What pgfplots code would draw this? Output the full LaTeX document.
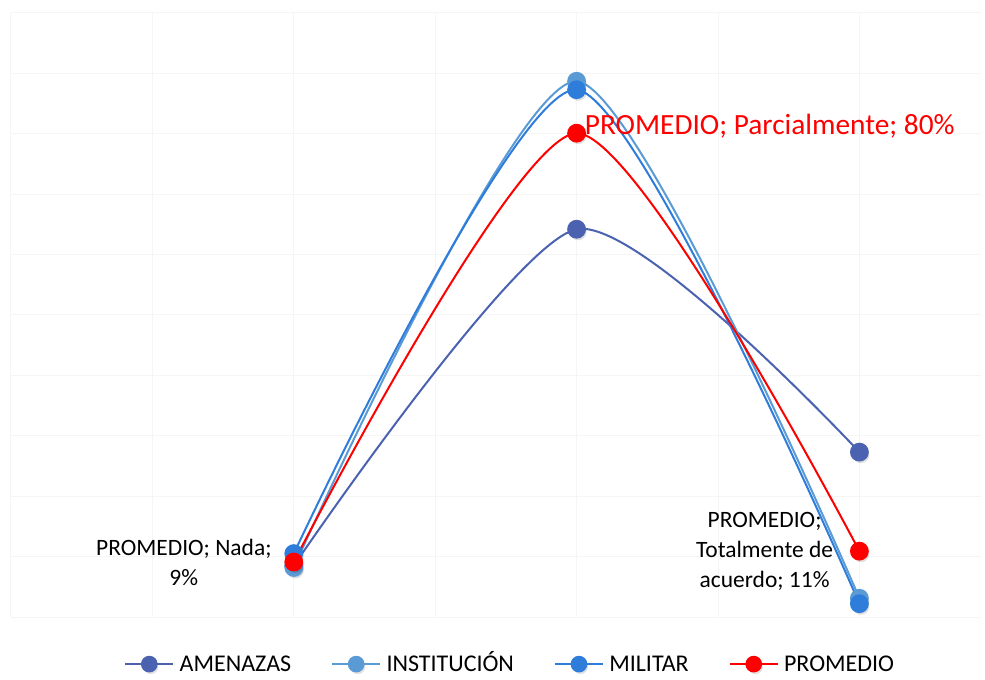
\documentclass[border=0pt]{standalone}
\usepackage{pgfplots}
\pgfplotsset{compat=1.18}
\usepackage{fontspec}
\setmainfont{Carlito}

\definecolor{amen}{HTML}{4A62B0}
\definecolor{inst}{HTML}{5B9BD5}
\definecolor{mili}{HTML}{2E7DDB}
\definecolor{prom}{HTML}{FF0000}

% round marker with a soft shadow, like the original
\pgfdeclareplotmark{shcirc}{%
  \begin{pgfscope}
    \pgfsetfillcolor{black}\pgfsetfillopacity{0.12}
    \pgfpathcircle{\pgfqpoint{1.2pt}{-2pt}}{\pgfplotmarksize}
    \pgfusepath{fill}
  \end{pgfscope}
  \pgfpathcircle{\pgfpointorigin}{\pgfplotmarksize}
  \pgfusepathqfillstroke}

\begin{document}
\begin{tikzpicture}
\useasboundingbox (0pt,0pt) rectangle (738.75pt,509.25pt);
\begin{axis}[
  at={(8.25pt,46.5pt)}, anchor=south west,
  scale only axis, width=727.5pt, height=453pt,
  xmin=-1, xmax=2.43, ymin=0, ymax=100,
  axis line style={draw=none},
  xtick={-1,-0.5,...,2.5}, ytick={0,10,...,100},
  xticklabels={}, yticklabels={},
  major tick length=0pt,
  grid=major, grid style={black!4, line width=0.75pt},
  clip=false,
  every axis plot/.append style={smooth, tension=0.4, line width=1.5pt, mark=shcirc, mark size=6.3pt},
  legend columns=4,
  legend style={at={(0.515,-0.078)}, anchor=center, draw=none, fill=none,
    font=\fontsize{18}{21}\selectfont,
    nodes={text height=12.5pt, text depth=1pt},
    /tikz/every odd column/.style={column sep=2pt},
    /tikz/every even column/.style={column sep=28pt}},
  legend image code/.code={
    \draw[#1, mark=none] (0pt,0pt) -- (36pt,0pt);
    \draw[#1, mark size=5.5pt, only marks] plot coordinates {(18pt,0pt)};},
]
\addplot[color=amen] coordinates {(0,8.5) (1,64.2) (2,27.3)};
\addlegendentry{AMENAZAS}
\addplot[color=inst] coordinates {(0,8.2) (1,88.7) (2,3.1)};
\addlegendentry{INSTITUCIÓN}
\addplot[color=mili] coordinates {(0,10.5) (1,87.3) (2,2.2)};
\addlegendentry{MILITAR}
\addplot[color=prom] coordinates {(0,9.1) (1,80.1) (2,10.9)};
\addlegendentry{PROMEDIO}

\node[anchor=east, align=center, inner sep=0pt, xshift=-16.5pt,
  font=\fontsize{17.6}{22.5}\selectfont] at (axis cs:0,9.1) {PROMEDIO; Nada;\\9\%};
\node[anchor=west, inner sep=0pt, xshift=6pt, yshift=5pt, text=prom,
  font=\fontsize{22}{26}\selectfont] at (axis cs:1,80.1) {PROMEDIO; Parcialmente; 80\%};
\node[anchor=east, align=center, inner sep=0pt, xshift=-19.5pt,
  font=\fontsize{17.6}{22.5}\selectfont] at (axis cs:2,10.9) {PROMEDIO;\\Totalmente de\\acuerdo; 11\%};
\end{axis}
\end{tikzpicture}
\end{document}
